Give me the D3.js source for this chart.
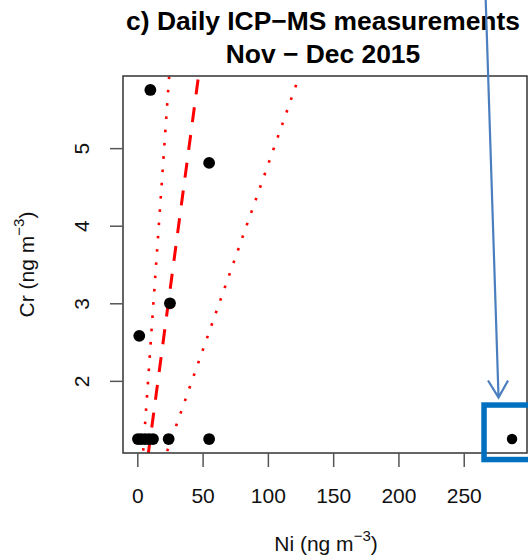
<!DOCTYPE html>
<html><head><meta charset="utf-8">
<script src="https://cdn.jsdelivr.net/npm/d3@7"></script>
<style>body{margin:0;background:#fff;} svg{display:block;}</style>
</head><body>
<svg id="chart" width="528" height="555"></svg>
<script>
// ---- data ----
const ni = [10, 55, 25, 1.5, 0.5, 3, 6, 9, 12, 24, 55, 287];
const cr = [5.75, 4.81, 3.0, 2.58, 1.25, 1.25, 1.25, 1.25, 1.25, 1.25, 1.25, 1.25];
const xTicks = [0, 50, 100, 150, 200, 250];
const yTicks = [2, 3, 4, 5];
// fitted line (dashed) and bounds (dotted): Cr = intercept + slope * Ni
const lineSlopes = [0.1265, 0.243, 0.0478];
const lineIntercepts = [0, 0, 0];
const lineKinds = ["fit", "bound", "bound"];
const outlierIndex = 11;
const titleLines = ["c) Daily ICP\u2212MS measurements", "Nov \u2212 Dec 2015"];

const svg = d3.select("#chart");
const font = "'Liberation Sans', Arial, Helvetica, sans-serif";
const L = 123, R = 527, T = 76, B = 453;

const pad = (lo, hi) => { const d = (hi - lo) * 0.04; return [lo - d, hi + d]; };
const x = d3.scaleLinear().domain(pad(d3.min(ni), d3.max(ni))).range([L, R]);
const y = d3.scaleLinear().domain(pad(d3.min(cr), d3.max(cr))).range([B, T]);

svg.append("clipPath").attr("id", "clip").append("rect")
  .attr("x", L).attr("y", T).attr("width", R - L).attr("height", B - T);

// lines
const xd = x.domain();
const lg = svg.append("g").attr("clip-path", "url(#clip)");
lineSlopes.forEach((s, i) => {
  const a = lineIntercepts[i];
  const pts = [[xd[0], a + s * xd[0]], [xd[1], a + s * xd[1]]];
  const p = lg.append("path")
    .attr("d", d3.line().x(d => x(d[0])).y(d => y(d[1]))(pts))
    .attr("fill", "none").attr("stroke", "#ff0000");
  if (lineKinds[i] === "fit") {
    p.attr("stroke-width", 3).attr("stroke-dasharray", "15 13").attr("stroke-dashoffset", 6);
  } else {
    p.attr("stroke-width", 2.6).attr("stroke-dasharray", "2.6 10.7");
  }
});

// points
svg.append("g").selectAll("circle").data(ni.map((v, i) => [v, cr[i]])).join("circle")
  .attr("cx", d => x(d[0])).attr("cy", d => y(d[1]))
  .attr("r", (d, i) => i === outlierIndex ? 5.2 : 5.9).attr("fill", "#000");

// box
svg.append("rect").attr("x", L).attr("y", T).attr("width", R - L).attr("height", B - T)
  .attr("fill", "none").attr("stroke", "#333").attr("stroke-width", 1.5);

// x axis
const xa = svg.append("g").attr("transform", `translate(0,${B})`)
  .call(d3.axisBottom(x).tickValues(xTicks).tickSize(14).tickFormat(d3.format("d")));
xa.select(".domain").remove();
xa.selectAll("line").attr("stroke", "#555").attr("stroke-width", 1.5);
xa.selectAll("text").attr("font-family", font).attr("font-size", 21).attr("fill", "#111")
  .attr("dy", null).attr("y", 50);

// y axis
const ya = svg.append("g").attr("transform", `translate(${L},0)`)
  .call(d3.axisLeft(y).tickValues(yTicks).tickSize(13).tickFormat(d3.format("d")));
ya.select(".domain").remove();
ya.selectAll("line").attr("stroke", "#555").attr("stroke-width", 1.5);
ya.selectAll("text").attr("font-family", font).attr("font-size", 21).attr("fill", "#111")
  .attr("x", null).attr("dy", null).attr("text-anchor", "middle")
  .attr("transform", "translate(-34,0) rotate(-90)");

// title
titleLines.forEach((t, i) => {
  svg.append("text").attr("x", (L + R) / 2 - 2).attr("y", 29.5 + i * 33.4)
    .attr("text-anchor", "middle").attr("font-family", font).attr("font-weight", "bold")
    .attr("font-size", 26.4).attr("fill", "#000").text(t);
});

// axis labels with superscripts
function unitLabel(sel, name) {
  sel.append("tspan").text(name + " (ng m");
  sel.append("tspan").attr("font-size", 15).attr("dy", -10).text("\u22123");
  sel.append("tspan").attr("dy", 10).text(")");
}
const xl = svg.append("text").attr("x", (L + R) / 2 + 1).attr("y", 551)
  .attr("text-anchor", "middle").attr("font-family", font).attr("font-size", 21).attr("fill", "#111");
unitLabel(xl, "Ni");
const yl = svg.append("text").attr("transform", `translate(34,${(T + B) / 2}) rotate(-90)`)
  .attr("text-anchor", "middle").attr("font-family", font).attr("font-size", 21).attr("fill", "#111");
unitLabel(yl, "Cr");

// annotation: box + arrow pointing at outlier
const ox = x(ni[outlierIndex]), oy = y(cr[outlierIndex]);
svg.append("rect").attr("x", ox - 28).attr("y", oy - 34).attr("width", 80).attr("height", 54.5)
  .attr("fill", "none").attr("stroke", "#0070c0").attr("stroke-width", 5.5);
const tip = [ox - 13.5, oy - 41.5];
svg.append("path")
  .attr("d", `M${tip[0] - 13},-5 L${tip[0]},${tip[1]} M${tip[0] - 10.5},${tip[1] - 17} L${tip[0]},${tip[1]} L${tip[0] + 9.5},${tip[1] - 17}`)
  .attr("fill", "none").attr("stroke", "#4a7ebf").attr("stroke-width", 2.2);
</script>
</body></html>
